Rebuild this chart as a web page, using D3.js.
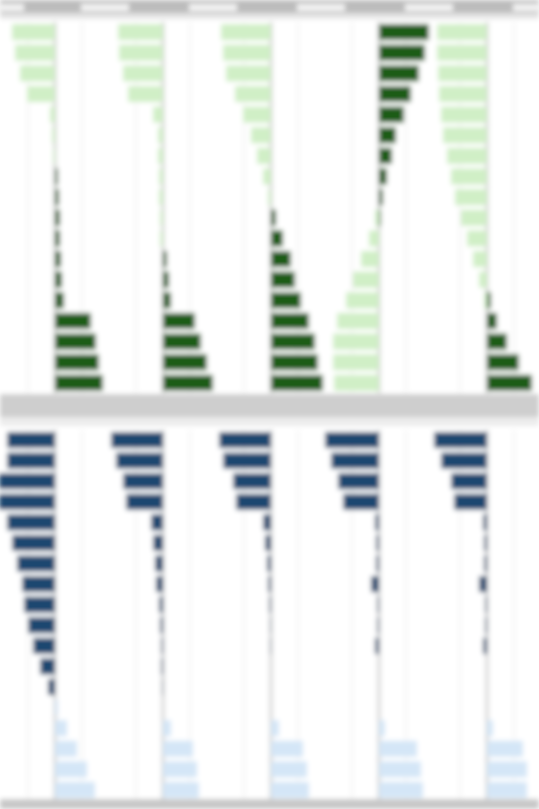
<!DOCTYPE html>
<html>
<head>
<meta charset="utf-8">
<script src="https://cdn.jsdelivr.net/npm/d3@7"></script>
<style>
  html, body { margin: 0; padding: 0; background: #fff; overflow: hidden; }
  svg { display: block; }
</style>
</head>
<body>
<script>
// rows, top to bottom
const ageGroups = ["85+", "80-84", "75-79", "70-74", "65-69", "60-64", "55-59", "50-54", "45-49",
  "40-44", "35-39", "30-34", "25-29", "20-24", "15-19", "10-14", "5-9", "0-4"];
const facets = ["1", "2", "3", "4", "5"];
const gridTicks = [-27, 27];

// top panel: light green to the left, dark green to the right
const greenLeft = [
  [43, 40, 35, 28, 5, 3, 2, 0, 0, 0, 0, 0, 0, 0, 0, 0, 0, 0],
  [45, 44, 40, 35, 10, 5, 5, 4, 4, 3, 3, 0, 0, 0, 0, 0, 0, 0],
  [50, 48, 45, 36, 28, 20, 14, 8, 3, 0, 0, 0, 0, 0, 0, 0, 0, 0],
  [0, 0, 0, 0, 0, 0, 0, 0, 0, 4, 10, 18, 26, 33, 42, 46, 46, 45],
  [50, 50, 49, 48, 46, 44, 40, 36, 32, 26, 20, 14, 8, 3, 0, 0, 0, 0],
];
const greenRight = [
  [0, 0, 0, 0, 0, 0, 0, 3, 4, 5, 5, 6, 7, 9, 36, 41, 44, 48],
  [0, 0, 0, 0, 0, 0, 0, 0, 0, 0, 0, 4, 6, 8, 32, 38, 44, 50],
  [0, 0, 0, 0, 0, 0, 0, 0, 0, 5, 12, 20, 24, 30, 38, 44, 47, 52],
  [50, 46, 40, 32, 25, 17, 13, 8, 4, 2, 0, 0, 0, 0, 0, 0, 0, 0],
  [0, 0, 0, 0, 0, 0, 0, 0, 0, 0, 0, 0, 0, 4, 10, 20, 32, 45],
];

// bottom panel: dark blue to the left, light blue to the right
const blueLeft = [
  [48, 48, 56, 56, 48, 43, 38, 33, 31, 27, 22, 15, 7, 0, 0, 0, 0, 0],
  [52, 47, 40, 37, 12, 10, 8, 7, 4, 3, 2, 2, 1, 0, 0, 0, 0, 0],
  [52, 48, 38, 35, 8, 6, 4, 3, 2, 1, 1, 0, 0, 0, 0, 0, 0, 0],
  [54, 48, 41, 36, 4, 3, 3, 8, 2, 2, 4, 0, 0, 0, 0, 0, 0, 0],
  [53, 46, 36, 33, 4, 3, 3, 8, 2, 2, 4, 0, 0, 0, 0, 0, 0, 0],
];
const blueRight = [
  [0, 0, 0, 0, 0, 0, 0, 0, 0, 0, 0, 0, 0, 3, 12, 22, 32, 40],
  [0, 0, 0, 0, 0, 0, 0, 0, 0, 0, 0, 0, 0, 0, 8, 30, 34, 36],
  [0, 0, 0, 0, 0, 0, 0, 0, 0, 0, 0, 0, 0, 0, 8, 32, 36, 38],
  [0, 0, 0, 0, 0, 0, 0, 0, 0, 0, 0, 0, 0, 0, 6, 38, 42, 44],
  [0, 0, 0, 0, 0, 0, 0, 0, 0, 0, 0, 0, 0, 0, 6, 36, 40, 40],
];

document.addEventListener("DOMContentLoaded", () => {
  const canvass = { width: 539, height: 809 };
  const panels = [
    { top: 22, bottom: 393, left: greenLeft, right: greenRight, leftColor: "#d0efc6", rightColor: "#1b5c13" },
    { top: 430, bottom: 800, left: blueLeft, right: blueRight, leftColor: "#1c4670", rightColor: "#d4e6f7" },
  ];

  const svg = d3
    .select("body")
    .append("svg")
    .attr("width", canvass.width)
    .attr("height", canvass.height);

  // the reference is a soft, upscaled picture
  svg
    .append("defs")
    .append("filter")
    .attr("id", "soft")
    .attr("x", -0.05)
    .attr("y", -0.05)
    .attr("width", 1.1)
    .attr("height", 1.1)
    .append("feGaussianBlur")
    .attr("stdDeviation", 2.8);

  const root = svg.append("g").attr("filter", "url(#soft)");
  root.append("rect").attr("width", canvass.width).attr("height", canvass.height).attr("fill", "#fff");

  const xBand = d3.scaleBand().domain(facets).range([1, 541]);
  const xInner = d3.scaleLinear().domain([-54, 54]).range([0, xBand.bandwidth()]);

  panels.forEach((p) => {
    const y = d3.scaleBand().domain(ageGroups).range([p.top, p.bottom]).paddingInner(0.22).paddingOuter(0.1);
    const g = root.append("g");

    facets.forEach((f, fi) => {
      const fg = g.append("g").attr("transform", `translate(${xBand(f)},0)`);

      fg.selectAll("line.grid")
        .data(gridTicks)
        .enter()
        .append("line")
        .attr("x1", (d) => xInner(d))
        .attr("x2", (d) => xInner(d))
        .attr("y1", p.top)
        .attr("y2", p.bottom)
        .attr("stroke", "#e6e6e6")
        .attr("stroke-width", 1);

      fg.append("line")
        .attr("x1", xInner(0))
        .attr("x2", xInner(0))
        .attr("y1", p.top)
        .attr("y2", p.bottom)
        .attr("stroke", "#cfcfcf")
        .attr("stroke-width", 3);

      fg.selectAll("rect.left")
        .data(p.left[fi])
        .enter()
        .append("rect")
        .attr("x", (d) => xInner(-d))
        .attr("y", (d, i) => y(ageGroups[i]))
        .attr("width", (d) => xInner(0) - xInner(-d))
        .attr("height", y.bandwidth())
        .attr("fill", p.leftColor);

      fg.selectAll("rect.right")
        .data(p.right[fi])
        .enter()
        .append("rect")
        .attr("x", xInner(0))
        .attr("y", (d, i) => y(ageGroups[i]))
        .attr("width", (d) => xInner(d) - xInner(0))
        .attr("height", y.bandwidth())
        .attr("fill", p.rightColor);
    });
  });

  // gray strips: top, middle and bottom
  root.append("rect").attr("x", 0).attr("y", 0).attr("width", canvass.width).attr("height", 13).attr("fill", "#bcbcbc");
  root.append("rect").attr("x", 0).attr("y", 13).attr("width", canvass.width).attr("height", 6).attr("fill", "#e4e4e4");
  root
    .selectAll("rect.label")
    .data(facets)
    .enter()
    .append("rect")
    .attr("x", (d) => xBand(d) + xBand.bandwidth() - 28)
    .attr("y", 4)
    .attr("width", 48)
    .attr("height", 7)
    .attr("fill", "#f4f4f4");
  root.append("rect").attr("x", -30).attr("y", 4).attr("width", 54).attr("height", 7).attr("fill", "#f4f4f4");

  root.append("rect").attr("x", 0).attr("y", 394).attr("width", canvass.width).attr("height", 23).attr("fill", "#c9c9c9").attr("opacity", 0.9);
  root.append("rect").attr("x", 0).attr("y", 417).attr("width", canvass.width).attr("height", 9).attr("fill", "#ececec");
  root.append("rect").attr("x", 0).attr("y", 799).attr("width", canvass.width).attr("height", 10).attr("fill", "#bdbdbd").attr("opacity", 0.85);
});
</script>
</body>
</html>
